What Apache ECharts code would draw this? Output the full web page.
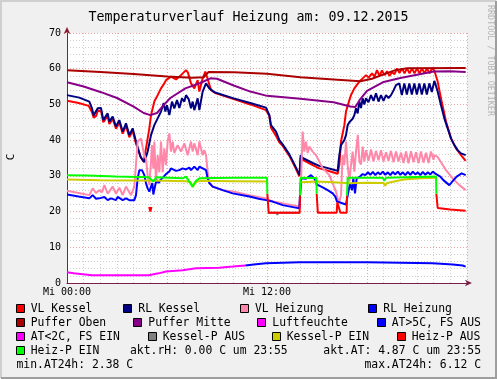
<!DOCTYPE html>
<html><head><meta charset="utf-8">
<script src="https://cdn.jsdelivr.net/npm/echarts/dist/echarts.min.js"></script>
<style>html,body{margin:0;padding:0;background:#F0F0F0;}#c{width:497px;height:379px;}</style>
</head><body><div id="c"></div>
<script>
const chartTitle = 'Temperaturverlauf Heizung am: 09.12.2015';
const yAxisTitle = 'C';
const watermark = 'RRDTOOL / TOBI OETIKER';
const xTickLabels = {0: 'Mi 00:00', 12: 'Mi 12:00'};
const yTicks = [0, 10, 20, 30, 40, 50, 60, 70];

// [hour, °C]
const vlKessel = [[0,51.0],[0.7,50.4],[1.3,49.6],[1.5,47.8],[1.6,46.3],[1.75,46.8],[1.85,48.3],[2.05,48.0],[2.18,45.0],[2.44,46.8],[2.54,44.5],[2.74,46.0],[2.94,43.2],[3.14,45.0],[3.34,41.8],[3.54,44.0],[3.74,40.8],[3.94,42.6],[4.14,39.0],[4.3,37.0],[4.45,35.0],[4.6,34.0],[4.74,37.7],[4.94,43.3],[5.04,47.0],[5.24,50.8],[5.44,52.6],[5.64,54.5],[5.84,55.9],[5.94,56.8],[6.24,57.8],[6.54,57.0],[6.84,58.2],[7.14,59.6],[7.25,59.0],[7.44,55.9],[7.64,54.5],[7.84,56.8],[7.94,53.6],[8.14,57.3],[8.3,59.2],[8.45,57.0],[8.64,54.0],[8.94,53.1],[10,51.5],[11,50.0],[11.94,48.4],[12.14,46.8],[12.24,43.5],[12.54,41.2],[12.74,39.4],[12.94,38.4],[13.14,37.0],[13.34,35.6],[13.54,33.8],[13.74,31.9],[13.94,29.9],[14.02,35.2],[14.14,34.5],[14.74,33.0],[15.14,32.1],[15.54,31.6],[15.94,31.0],[16.24,30.6],[16.34,33.0],[16.44,39.6],[16.64,44.2],[16.74,48.0],[16.94,51.2],[17.04,52.6],[17.24,54.5],[17.54,56.4],[17.74,57.3],[17.94,58.2],[18.1,57.5],[18.3,58.7],[18.45,57.8],[18.6,59.6],[18.75,58.0],[18.9,59.5],[19.05,58.2],[19.2,59.3],[19.35,58.0],[19.5,59.0],[19.65,58.5],[19.8,60.1],[19.95,58.8],[20.1,60.1],[20.25,58.7],[20.4,60.1],[20.55,58.7],[20.7,60.1],[20.85,58.7],[21.0,60.1],[21.15,58.7],[21.3,60.1],[21.45,58.7],[21.6,60.1],[21.75,58.7],[21.9,60.1],[22.04,59.5],[22.24,56.4],[22.44,51.7],[22.74,45.2],[23.04,40.5],[23.34,37.7],[23.64,35.8],[23.92,34.2]];
const rlKessel = [[0,52.6],[0.74,51.9],[1.34,50.8],[1.5,48.9],[1.6,46.9],[1.72,47.2],[1.84,48.9],[2.04,49.0],[2.18,45.6],[2.44,47.5],[2.54,45.2],[2.74,46.6],[2.94,43.8],[3.14,45.6],[3.34,42.4],[3.54,44.7],[3.74,41.4],[3.94,43.3],[4.14,39.6],[4.4,35.4],[4.64,33.8],[4.84,36.8],[5.04,41.4],[5.24,44.2],[5.44,46.1],[5.64,48.0],[5.8,50.4],[5.9,48.0],[6.0,49.8],[6.14,47.0],[6.3,50.8],[6.44,48.9],[6.6,51.2],[6.74,49.0],[6.9,51.7],[7.04,50.8],[7.14,52.6],[7.3,51.5],[7.44,48.9],[7.54,50.8],[7.64,48.4],[7.84,51.7],[7.94,48.4],[8.14,53.6],[8.34,55.9],[8.54,54.5],[8.84,53.4],[10,51.7],[11,50.4],[11.94,49.1],[12.14,47.0],[12.24,44.2],[12.54,42.4],[12.74,40.0],[12.94,38.8],[13.14,37.4],[13.34,36.0],[13.54,34.2],[13.74,32.3],[13.96,30.2],[14.02,35.8],[14.14,35.0],[14.74,33.6],[15.14,32.8],[15.54,32.3],[15.94,31.8],[16.24,31.4],[16.34,35.8],[16.44,38.6],[16.64,40.0],[16.74,41.4],[16.84,44.2],[16.94,45.0],[17.14,46.0],[17.24,47.0],[17.34,48.9],[17.44,47.5],[17.54,50.8],[17.64,49.0],[17.74,51.7],[17.84,50.0],[17.94,51.7],[18.09,50.6],[18.24,52.6],[18.39,51.0],[18.54,53.1],[18.69,50.8],[18.84,52.6],[18.99,51.0],[19.14,52.6],[19.29,51.8],[19.44,52.6],[19.6,54.0],[19.74,55.4],[19.94,55.9],[20.09,52.6],[20.24,55.9],[20.39,52.8],[20.54,55.9],[20.69,52.8],[20.84,55.9],[20.99,52.8],[21.14,55.9],[21.29,52.8],[21.44,55.9],[21.59,52.8],[21.74,55.9],[21.89,53.5],[22.04,56.6],[22.14,55.2],[22.24,53.6],[22.44,49.8],[22.64,46.1],[22.84,43.3],[23.04,40.5],[23.24,38.6],[23.44,37.2],[23.64,36.3],[23.92,35.8]];
const vlHeizung = [[0,25.8],[0.7,25.2],[1.34,24.6],[1.54,26.5],[1.74,25.2],[1.94,26.0],[2.1,25.4],[2.24,27.4],[2.44,25.0],[2.54,24.6],[2.74,27.0],[2.94,25.0],[3.14,26.7],[3.34,24.6],[3.54,27.0],[3.84,24.6],[4.04,27.0],[4.14,27.2],[4.18,35.8],[4.24,39.6],[4.44,40.5],[4.54,38.0],[4.64,35.8],[4.74,34.8],[4.84,30.2],[4.94,27.4],[5.04,34.0],[5.1,38.6],[5.18,32.0],[5.24,39.6],[5.34,28.4],[5.44,35.8],[5.54,31.0],[5.64,39.6],[5.74,31.0],[5.84,37.7],[5.94,33.0],[6.04,39.6],[6.14,41.9],[6.24,36.8],[6.34,39.6],[6.44,36.4],[6.64,38.6],[6.84,36.8],[7.04,39.1],[7.24,35.8],[7.44,39.6],[7.54,36.8],[7.64,39.1],[7.84,35.8],[7.94,39.6],[8.14,35.8],[8.24,37.2],[8.34,35.8],[8.44,31.2],[8.54,27.9],[8.74,27.0],[9.34,26.0],[9.94,25.6],[10.94,24.6],[11.94,23.7],[12.34,22.8],[12.94,22.3],[13.94,21.4],[14.04,28.4],[14.14,42.4],[14.24,36.8],[14.34,39.6],[14.44,36.4],[14.54,38.2],[14.74,36.8],[14.94,35.8],[15.14,34.0],[15.34,32.1],[15.54,31.2],[15.74,30.2],[15.94,27.9],[16.14,25.6],[16.24,23.7],[16.34,22.8],[16.44,24.6],[16.54,35.8],[16.64,33.0],[16.74,39.6],[16.84,33.0],[16.94,28.4],[17.04,33.0],[17.14,36.8],[17.24,31.2],[17.34,36.8],[17.45,41.5],[17.54,34.0],[17.64,33.2],[17.74,38.2],[17.84,34.0],[17.94,37.2],[18.09,34.2],[18.24,37.4],[18.39,34.0],[18.54,37.0],[18.69,34.4],[18.84,37.2],[18.99,34.0],[19.14,36.6],[19.29,34.2],[19.44,37.0],[19.59,33.8],[19.74,36.8],[19.89,34.0],[20.04,36.5],[20.19,33.6],[20.34,36.8],[20.49,33.5],[20.64,36.9],[20.79,33.8],[20.94,36.6],[21.09,33.5],[21.24,36.8],[21.39,33.7],[21.54,36.5],[21.69,33.6],[21.84,36.8],[21.99,34.5],[22.04,35.8],[22.24,35.3],[22.44,33.8],[22.74,31.6],[23.14,29.3],[23.54,27.4],[23.92,26.0]];
const rlHeizung = [[0,24.8],[0.7,24.2],[1.34,23.7],[1.54,24.6],[1.74,23.6],[1.94,23.7],[2.04,23.2],[2.24,24.1],[2.44,23.2],[2.64,23.7],[2.94,23.2],[3.04,24.1],[3.34,23.2],[3.54,23.7],[3.74,23.2],[4.04,23.2],[4.14,24.6],[4.24,29.3],[4.34,31.6],[4.5,31.6],[4.64,30.2],[4.74,27.9],[4.84,26.5],[4.94,25.6],[5.04,27.0],[5.12,28.0],[5.18,24.8],[5.3,27.5],[5.38,28.8],[5.5,28.0],[5.6,28.8],[5.75,29.5],[5.94,30.5],[6.14,31.2],[6.24,32.1],[6.54,31.4],[6.74,31.6],[6.94,32.1],[7.14,31.8],[7.34,32.3],[7.44,31.6],[7.64,32.6],[7.84,31.6],[7.94,32.6],[8.14,32.1],[8.24,32.6],[8.34,31.6],[8.44,29.3],[8.54,28.0],[8.74,27.0],[9.34,26.0],[9.94,25.1],[10.94,24.2],[11.5,23.6],[11.94,23.2],[12.34,22.8],[12.94,21.8],[13.94,20.9],[14.04,29.3],[14.14,29.8],[14.34,29.2],[14.64,30.2],[14.84,29.3],[14.98,27.6],[15.34,26.8],[15.64,26.0],[15.94,25.1],[16.1,24.2],[16.2,22.8],[16.74,22.0],[16.86,25.0],[16.98,27.9],[17.1,26.0],[17.18,29.3],[17.28,25.1],[17.38,29.3],[17.58,29.8],[17.74,30.5],[17.9,30.2],[18.05,31.0],[18.2,30.3],[18.35,31.1],[18.5,30.2],[18.65,31.0],[18.8,30.4],[18.95,31.2],[19.1,30.3],[19.25,31.0],[19.4,30.2],[19.55,31.1],[19.7,30.4],[19.85,31.2],[20.0,30.3],[20.15,31.0],[20.3,30.2],[20.45,31.1],[20.6,30.3],[20.75,31.2],[20.9,30.4],[21.05,31.0],[21.2,30.2],[21.35,31.1],[21.5,30.3],[21.65,31.0],[21.8,30.4],[21.95,31.2],[22.1,30.6],[22.4,29.8],[22.58,28.8],[22.94,27.4],[23.14,28.5],[23.38,29.8],[23.68,30.7],[23.92,30.2]];
const pufferOben = [[0,59.6],[2,59.1],[4,58.5],[6,57.8],[7.5,57.5],[8.2,57.6],[8.5,59.1],[10,59.0],[12,58.6],[14,57.6],[16,57.0],[17.6,56.5],[18.3,57.2],[19,58.4],[19.7,59.6],[20.4,60.1],[23.92,60.2]];
const pufferMitte = [[0,56.2],[1,55.0],[2,53.5],[3,51.8],[4,49.4],[4.6,47.6],[5,47.0],[5.4,47.6],[5.8,49.8],[6.2,51.8],[7.1,54.5],[8,56.0],[8.6,57.3],[9,57.2],[10,55.3],[11,53.6],[12,52.4],[14,51.6],[16,50.6],[17,49.4],[17.3,49.3],[17.6,51.5],[18,53.8],[19,56.3],[20,57.4],[21,58.3],[22,59.2],[23,59.3],[23.92,59.1]];
const atCold = [[0,3.0],[0.4,2.7],[1.5,2.2],[4.9,2.2],[5.5,2.7],[5.94,3.2],[6.94,3.6],[7.74,4.1],[9.14,4.3],[9.94,4.6],[10.7,4.9]];
const atWarm = [[10.7,4.9],[11.2,5.2],[11.94,5.5],[13.94,5.8],[16,5.8],[18,5.8],[20,5.7],[21.94,5.5],[23.14,5.2],[23.74,4.9],[23.92,4.6]];
const kesselPAus = [[[12.05,19.7],[12.55,19.7],[12.62,19.1],[12.69,19.7],[13.95,19.7]]];
const kesselPEin = [
  [[0,29.0],[2,28.8],[4,28.7],[5.9,28.6],[7.14,28.5],[7.44,28.2],[7.54,26.8],[7.7,28.2],[8.0,28.6],[10,28.5],[11.98,28.4]],
  [[14.04,28.2],[14.98,28.4],[16,28.2],[16.88,27.9],[18,28.1],[19.0,28.0],[19.08,27.2],[19.2,28.0],[20.2,29.0],[21.2,29.3],[22.18,29.5]]
];
const heizPAus = [
  [[4.93,21.3],[5.0,20.0],[5.07,21.3]],
  [[12.02,25.0],[12.1,19.7],[13.96,19.7],[13.98,24.5]],
  [[14.98,25.0],[15.05,19.7],[16.18,19.7],[16.22,22.6],[16.34,22.6],[16.4,19.7],[16.78,19.7],[16.8,24.5]],
  [[22.16,25.0],[22.24,21.0],[23.0,20.6],[23.92,20.2]]
];
const heizPEin = [
  [[0,30.2],[1.2,30.1],[2.94,29.8],[4.9,29.6],[5.18,28.4],[5.35,29.6],[6.94,29.3],[7.14,29.8],[7.34,28.4],[7.54,27.0],[7.74,28.6],[7.94,29.3],[10,29.5],[12.0,29.5],[12.02,25.0]],
  [[13.98,24.5],[14.02,29.5],[14.96,29.4],[14.98,25.0]],
  [[16.8,24.5],[16.84,29.5],[18.94,29.5],[19.04,28.6],[19.14,29.5],[22.14,29.8],[22.16,25.0]]
];

const legendRows = [
  [['VL Kessel','#FF0000'],['RL Kessel','#000080'],['VL Heizung','#FF88AA'],['RL Heizung','#0000FF']],
  [['Puffer Oben','#AA0000'],['Puffer Mitte','#880088'],['Luftfeuchte','#FF00FF'],['AT>5C, FS AUS','#0000FF']],
  [['AT<2C, FS EIN','#FF00FF'],['Kessel-P AUS','#808080'],['Kessel-P EIN','#CCCC00'],['Heiz-P AUS','#FF0000']],
  [['Heiz-P EIN','#00FF00']]
];
const infoTexts = ['akt.rH: 0.00 C um 23:55','akt.AT: 4.87 C um 23:55','min.AT24h: 2.38 C','max.AT24h: 6.12 C'];

function joinSegs(segs){
  const out=[];
  segs.forEach((s,i)=>{ if(i>0){ const p=segs[i-1][segs[i-1].length-1][0]; out.push([(p+s[0][0])/2,null]); } s.forEach(pt=>out.push(pt)); });
  return out;
}
const MONO='"DejaVu Sans Mono", monospace';
function ln(name,data,color){
  return {name,type:'line',data,showSymbol:false,symbol:'none',connectNulls:false,lineStyle:{width:2,color},itemStyle:{color},animation:false};
}

const chart = echarts.init(document.getElementById('c'));
const W=497,H=379;
const boxX = [[15.7,123.3,240,368.3],[15.7,133.3,257.3,376.7],[15.7,147.7,271.7,396.7],[15.7]];
const rowY = [309,323,337,351,365];
const g = [];
// frame shading
g.push({type:'polyline',shape:{points:[[1,H-1],[1,1],[W-1,1]]},style:{stroke:'#CFCFCF',lineWidth:2,fill:null}});
g.push({type:'polyline',shape:{points:[[1,H-1],[W-1,H-1],[W-1,1]]},style:{stroke:'#9E9E9E',lineWidth:2,fill:null}});
legendRows.forEach((row,ri)=>row.forEach((it,ci)=>{
  const x=boxX[ri][ci], y=rowY[ri];
  g.push({type:'rect',shape:{x:Math.round(x)+0.5,y:y-4.5,width:8,height:8},style:{fill:it[1],stroke:'#000',lineWidth:1}});
  g.push({type:'text',style:{text:it[0],x:x+15,y:y,font:'11.4px '+MONO,fill:'#000',verticalAlign:'middle',align:'left'}});
}));
g.push({type:'text',style:{text:infoTexts[0],x:130,y:rowY[3],font:'11.4px '+MONO,fill:'#000',verticalAlign:'middle',align:'left'}});
g.push({type:'text',style:{text:infoTexts[1],x:481,y:rowY[3],font:'11.4px '+MONO,fill:'#000',verticalAlign:'middle',align:'right'}});
g.push({type:'text',style:{text:infoTexts[2],x:16.5,y:rowY[4],font:'11.4px '+MONO,fill:'#000',verticalAlign:'middle',align:'left'}});
g.push({type:'text',style:{text:infoTexts[3],x:481,y:rowY[4],font:'11.4px '+MONO,fill:'#000',verticalAlign:'middle',align:'right'}});
g.push({type:'text',x:11,y:157,rotation:Math.PI/2,style:{text:yAxisTitle,font:'11px '+MONO,fill:'#000',align:'center',verticalAlign:'middle'}});
g.push({type:'text',x:490,y:5,rotation:-Math.PI/2,style:{text:watermark,font:'8.4px '+MONO,fill:'#B4B4B4',align:'left',verticalAlign:'middle'}});

chart.setOption({
  backgroundColor:'#F0F0F0',
  animation:false,
  title:{text:chartTitle,left:'center',top:6,textStyle:{fontFamily:MONO,fontSize:13.3,fontWeight:'normal',color:'#000'}},
  grid:{left:67,right:30,top:33,bottom:96,show:true,backgroundColor:'#FFFFFF',borderWidth:0},
  xAxis:{type:'value',min:0,max:24,interval:6,
    axisLine:{show:true,lineStyle:{color:'#7A2048',width:1},symbol:['none','arrow'],symbolSize:[5,7],symbolOffset:[0,5]},
    axisTick:{show:false},
    axisLabel:{margin:4,fontFamily:MONO,fontSize:10,color:'#000',formatter:v=>xTickLabels[v]||'',showMinLabel:true,hideOverlap:false},
    splitLine:{show:true,lineStyle:{color:'#E9A3A3',type:[1,2],width:1}},
    minorTick:{show:false,splitNumber:6},
    minorSplitLine:{show:true,lineStyle:{color:'#CFCFCF',type:[1,2],width:1}}
  },
  yAxis:{type:'value',min:yTicks[0],max:yTicks[yTicks.length-1],interval:10,
    axisLine:{show:true,lineStyle:{color:'#8B1A2A',width:1},symbol:['none','arrow'],symbolSize:[5,7],symbolOffset:[0,6]},
    axisTick:{show:false},
    axisLabel:{margin:6,fontFamily:MONO,fontSize:10,color:'#000'},
    splitLine:{show:true,lineStyle:{color:'#E9A3A3',type:[1,2],width:1}},
    minorTick:{show:false,splitNumber:5},
    minorSplitLine:{show:true,lineStyle:{color:'#CFCFCF',type:[1,2],width:1}}
  },
  graphic:g,
  series:[
    ln('VL Kessel',vlKessel,'#FF0000'),
    ln('RL Kessel',rlKessel,'#000080'),
    ln('VL Heizung',vlHeizung,'#FF88AA'),
    ln('RL Heizung',rlHeizung,'#0000FF'),
    ln('Puffer Oben',pufferOben,'#AA0000'),
    ln('Puffer Mitte',pufferMitte,'#880088'),
    ln('AT<2C, FS EIN',atCold,'#FF00FF'),
    ln('AT>5C, FS AUS',atWarm,'#0000FF'),
    ln('Kessel-P AUS',joinSegs(kesselPAus),'#808080'),
    ln('Kessel-P EIN',joinSegs(kesselPEin),'#CCCC00'),
    ln('Heiz-P AUS',joinSegs(heizPAus),'#FF0000'),
    ln('Heiz-P EIN',joinSegs(heizPEin),'#00FF00')
  ]
});
</script></body></html>
